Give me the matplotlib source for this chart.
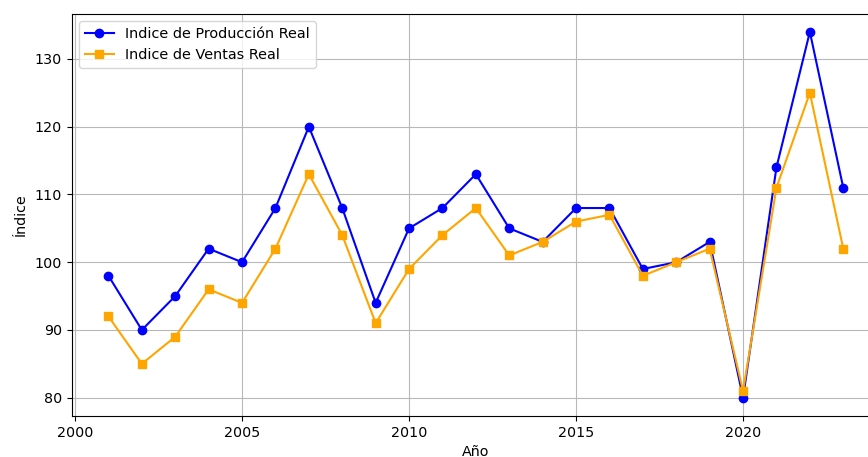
import matplotlib
matplotlib.use("Agg")
import matplotlib.pyplot as plt

years = list(range(2001, 2024))
produccion = [98, 90, 95, 102, 100, 108, 120, 108, 94, 105, 108, 113, 105, 103, 108, 108, 99, 100, 103, 80, 114, 134, 111]
ventas = [92, 85, 89, 96, 94, 102, 113, 104, 91, 99, 104, 108, 101, 103, 106, 107, 98, 100, 102, 81, 111, 125, 102]

W, H = 868, 457
fig = plt.figure(figsize=(W / 100, H / 100), dpi=100)
left, right, top, bottom = 71.7, 880.0, 13.6, 416.0
ax = fig.add_axes([left / W, (H - bottom) / H, (right - left) / W, (bottom - top) / H])

ax.plot(years, produccion, marker='o', color='blue', label='Indice de Producción Real')
ax.plot(years, ventas, marker='s', color='orange', label='Indice de Ventas Real')
ax.set_xlabel('Año', fontsize=10.3)
ax.set_ylabel('Índice', fontsize=10.3, labelpad=5)
ax.tick_params(labelsize=10.3)
ax.grid(True, color='#b8b8b8')
ax.legend(loc='upper left', fontsize=10.4)

fig.savefig('out.png', dpi=100)
